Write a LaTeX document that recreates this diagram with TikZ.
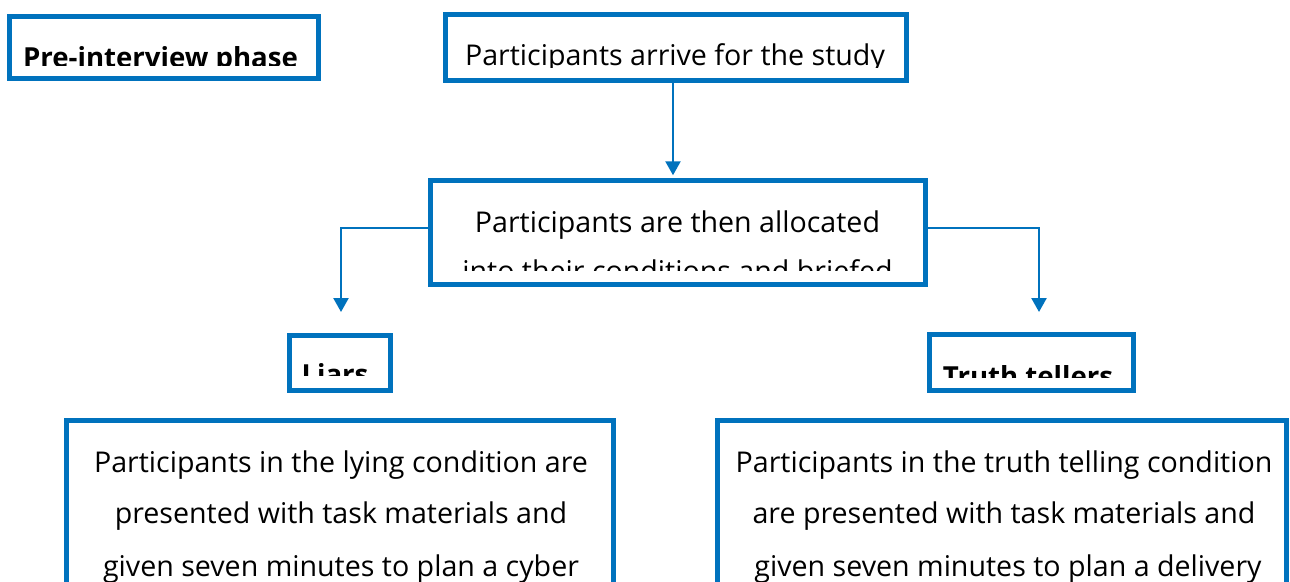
\documentclass[tikz,border=0pt]{standalone}
\usepackage{fontspec}
\setmainfont{Open Sans}
\usetikzlibrary{arrows.meta}
\definecolor{boxblue}{RGB}{0,114,189}
\tikzset{
  box/.style={draw=boxblue, line width=5.5pt, fill=white, rectangle, inner sep=0pt},
  txt/.style={anchor=base, inner sep=0pt, text=black, font=\fontsize{28.6}{34}\selectfont},
  btxt/.style={anchor=base, inner sep=0pt, text=black, font=\fontsize{27.6}{34}\selectfont\bfseries},
  conn/.style={draw=boxblue, line width=2.4pt, -{Triangle[width=15pt,length=14pt]}}
}
\begin{document}
\begin{tikzpicture}[x=1pt,y=-1pt]
\useasboundingbox (0,0) rectangle (1290,581);
\clip (0,0) rectangle (1290,581);
\fill[white] (0,0) rectangle (1290,581);

% boxes
\node[box, minimum width=309pt, minimum height=62pt] (pre) at (164,47.5) {};
\node[box, minimum width=461pt, minimum height=66pt] (arrive) at (676,47.5) {};
\node[box, minimum width=495pt, minimum height=104pt] (alloc) at (678,232.5) {};
\node[box, minimum width=101pt, minimum height=55pt] (liars) at (340,363) {};
\node[box, minimum width=204pt, minimum height=56pt] (truth) at (1031.5,362.5) {};
\node[box, minimum width=547pt, minimum height=380pt] (lie) at (340,610.5) {};
\node[box, minimum width=569pt, minimum height=380pt] (tell) at (1002,610.5) {};

% texts (clipped as in the reference)
\begin{scope}
  \clip (12,19) rectangle (316,65.3);
  \node[btxt] (pretext) at (160.5,67) {Pre-interview phase};
\end{scope}
\begin{scope}
  \clip (448,17) rectangle (904,67.5);
  \node[txt] (arrivetext) at (675,65.5) {Participants arrive for the study};
\end{scope}
\begin{scope}
  \clip (433,183) rectangle (923,270);
  \node[txt] (alloc1) at (677.5,232) {Participants are then allocated};
  \node[txt] (alloc2) at (677.5,281) {into their conditions and briefed};
\end{scope}
\begin{scope}
  \clip (292,338) rectangle (388,375);
  \node[btxt] (liarstext) at (335,384) {Liars};
\end{scope}
\begin{scope}
  \clip (932,337) rectangle (1131,377);
  \node[btxt] (truthtext) at (1028,386) {Truth tellers};
\end{scope}
\node[txt] (lie1) at (341,472) {Participants in the lying condition are};
\node[txt] (lie2) at (341,523) {presented with task materials and};
\node[txt] (lie3) at (341,576) {given seven minutes to plan a cyber};
\node[txt] (tell1) at (1004,472) {Participants in the truth telling condition};
\node[txt] (tell2) at (1004,523) {are presented with task materials and};
\node[txt] (tell3) at (1008,576) {given seven minutes to plan a delivery};

% connectors
\coordinate (ax) at (673,0);
\coordinate (ly) at (0,228);
\coordinate (ltip) at (341,312);
\coordinate (rtip) at (1039,312);
\draw[conn] (ax |- arrive.south) -- ([yshift=2.5pt]ax |- alloc.north);
\draw[conn] (alloc.west |- ly) -| (ltip);
\draw[conn] (alloc.east |- ly) -| (rtip);
\end{tikzpicture}
\end{document}
